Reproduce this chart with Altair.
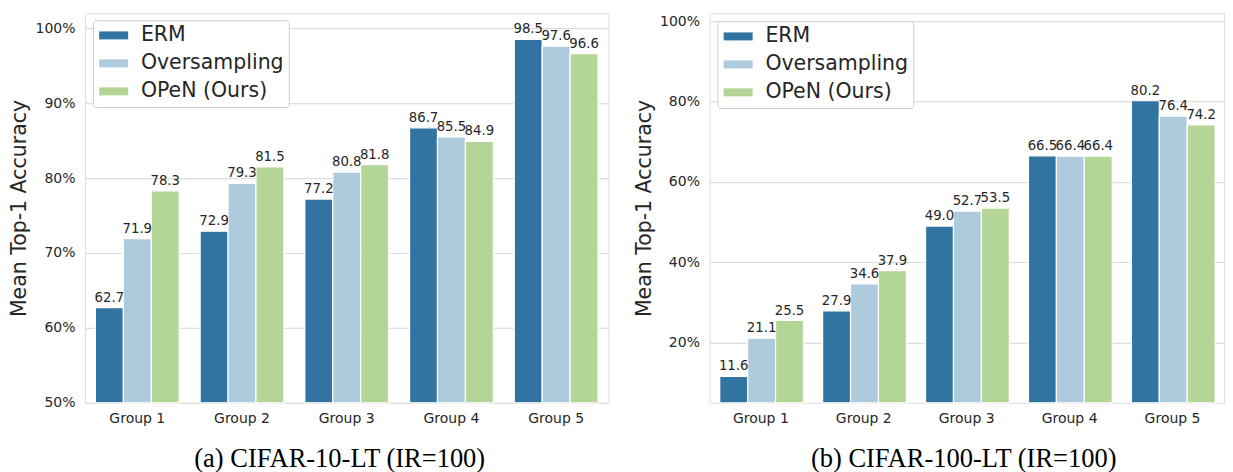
import altair as alt
import pandas as pd

groups = ["Group 1", "Group 2", "Group 3", "Group 4", "Group 5"]
methods = ["ERM", "Oversampling", "OPeN (Ours)"]
colors = ["#3274a1", "#aecbdd", "#b3d595"]

c10_erm = [62.7, 72.9, 77.2, 86.7, 98.5]
c10_over = [71.9, 79.3, 80.8, 85.5, 97.6]
c10_open = [78.3, 81.5, 81.8, 84.9, 96.6]

c100_erm = [11.6, 27.9, 49.0, 66.5, 80.2]
c100_over = [21.1, 34.6, 52.7, 66.4, 76.4]
c100_open = [25.5, 37.9, 53.5, 66.4, 74.2]

c10_ticks = [50, 60, 70, 80, 90, 100]
c100_ticks = [20, 40, 60, 80, 100]


def make_df(series):
    rows = []
    for m, vals in zip(methods, series):
        for g, v in zip(groups, vals):
            rows.append({"group": g, "method": m, "value": v})
    return pd.DataFrame(rows)


FONT = "DejaVu Sans"
TXT = "#262626"


def panel(df, domain, ticks, caption, lx, ly, width, dx):
    yscale = alt.Scale(domain=domain, nice=False, zero=False)
    base = alt.Chart(df).encode(
        x=alt.X("group:N", sort=groups, title=None,
                scale=alt.Scale(paddingInner=0.2, paddingOuter=0.1),
                axis=alt.Axis(labelAngle=0, labelPadding=9, labelFontSize=14,
                              labelColor=TXT, labelFont=FONT, ticks=False,
                              domain=False, grid=False)),
        xOffset=alt.XOffset("method:N", sort=methods,
                            scale=alt.Scale(paddingInner=0, paddingOuter=0)),
        y=alt.Y("value:Q", scale=yscale, title="Mean Top-1 Accuracy",
                axis=alt.Axis(values=ticks, labelExpr="datum.value + '%'",
                              labelFontSize=14, labelColor=TXT, labelFont=FONT,
                              labelPadding=10, ticks=False, tickSize=0, domain=False,
                              titleFontSize=20.5, titleFont=FONT, titleFontWeight="normal",
                              titleColor=TXT, titlePadding=5,
                              gridColor="#dddddd", gridWidth=1.2)),
    )
    bars = base.mark_bar(stroke="white", strokeWidth=1.2).encode(
        y2=alt.datum(domain[0]),
        color=alt.Color("method:N", sort=methods,
                        scale=alt.Scale(domain=methods, range=colors),
                        legend=alt.Legend(title=None, orient="none", legendX=lx, legendY=ly,
                                          labelFontSize=20.5, labelFont=FONT, labelColor=TXT,
                                          symbolType="M-1.45,-0.4L1.45,-0.4L1.45,0.4L-1.45,0.4Z",
                                          symbolSize=400, symbolStrokeWidth=0,
                                          symbolOffset=5.5, labelOffset=17, rowPadding=7,
                                          padding=5, strokeColor="#cccccc",
                                          fillColor="white", cornerRadius=3)),
    )
    text = base.mark_text(baseline="bottom", dy=-3, fontSize=13.3, font=FONT,
                          color=TXT).encode(
        text=alt.Text("value:Q", format=".1f"))
    return alt.layer(bars, text).properties(
        width=width, height=390,
        title=alt.TitleParams(caption, orient="bottom", font="Liberation Serif",
                              fontSize=26.5, fontWeight="normal", color="black",
                              offset=20, dx=dx, anchor="middle"))


left = panel(make_df([c10_erm, c10_over, c10_open]), [50, 102], c10_ticks,
             "(a) CIFAR-10-LT (IR=100)", 8, 7, 524, -7)
right = panel(make_df([c100_erm, c100_over, c100_open]), [5, 102], c100_ticks,
              "(b) CIFAR-100-LT (IR=100)", 8, 8, 515, -3)

chart = alt.hconcat(left, right, spacing=24).resolve_legend(color="independent").properties(
    padding={"left": 1, "top": 4, "right": 0, "bottom": 0}
).configure_view(stroke="#d0d0d0", strokeWidth=1.2).configure(background="white")

chart.save("out.html", embed_options={"renderer": "svg", "actions": False})
